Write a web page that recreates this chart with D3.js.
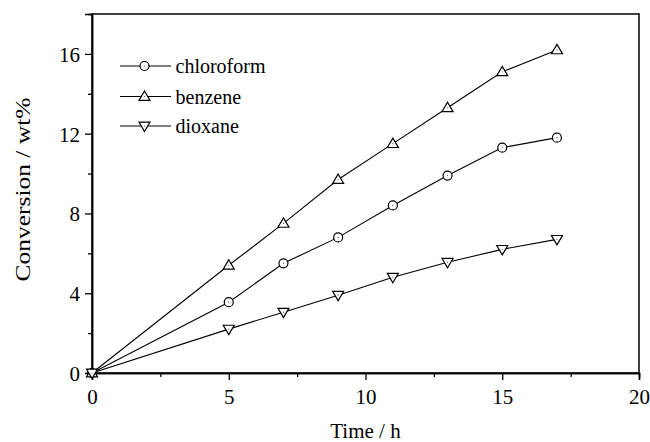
<!DOCTYPE html>
<html><head><meta charset="utf-8">
<script src="https://cdn.jsdelivr.net/npm/d3@7"></script>
<style>
html,body{margin:0;padding:0;background:#fff;}
svg{display:block;}
svg text{font-family:"Liberation Serif","Times New Roman","DejaVu Serif",serif !important;}
</style></head>
<body><svg id="c" width="650" height="442"></svg>
<script>
const time = [0, 5, 7, 9, 11, 13, 15, 17];
const chloroform = [0, 3.55, 5.5, 6.8, 8.4, 9.9, 11.3, 11.8];
const benzene = [0, 5.4, 7.5, 9.7, 11.5, 13.3, 15.1, 16.2];
const dioxane = [0, 2.2, 3.05, 3.9, 4.8, 5.55, 6.2, 6.7];
const seriesNames = ["chloroform", "benzene", "dioxane"];
const markerTypes = ["circle", "up", "down"];
const xTicks = [0, 5, 10, 15, 20];
const yTicks = [0, 4, 8, 12, 16];
const xTitle = "Time / h";
const yTitle = "Conversion / wt%";

const FONT = '"Liberation Serif","Times New Roman","DejaVu Serif",serif';
const svg = d3.select("#c");
const L = 92, R = 639, T = 14, B = 373;
const x = d3.scaleLinear().domain([0, 20]).range([L, R]);
const y = d3.scaleLinear().domain([0, 18]).range([B, T]);

// frame
svg.append("rect").attr("x", L).attr("y", T).attr("width", R - L).attr("height", B - T)
  .attr("fill", "none").attr("stroke", "#000").attr("stroke-width", 1.5);

// axes
const xAxis = d3.axisBottom(x).tickValues(xTicks).tickSize(7).tickPadding(6).tickFormat(d3.format("d"));
const gx = svg.append("g").attr("transform", `translate(0,${B})`).call(xAxis);
const xMinor = d3.axisBottom(x).tickValues([2.5, 7.5, 12.5, 17.5]).tickSize(4).tickFormat("");
const gx2 = svg.append("g").attr("transform", `translate(0,${B})`).call(xMinor);
const yAxis = d3.axisLeft(y).tickValues(yTicks).tickSize(7).tickPadding(5).tickFormat(d3.format("d"));
const gy = svg.append("g").attr("transform", `translate(${L},0)`).call(yAxis);
const yMinor = d3.axisLeft(y).tickValues([2, 6, 10, 14]).tickSize(4).tickFormat("");
const gy2 = svg.append("g").attr("transform", `translate(${L},0)`).call(yMinor);
[gx, gx2, gy, gy2].forEach(g => {
  g.attr("font-family", FONT).attr("font-size", 21);
  g.select(".domain").attr("stroke", "#000").attr("stroke-width", 1.5);
  g.selectAll(".tick line").attr("stroke", "#000").attr("stroke-width", 1.3);
  g.selectAll("text").attr("fill", "#000").attr("font-family", FONT).attr("font-size", 21);
});
gx.selectAll("text").attr("dy", null).attr("y", 31);
gy.selectAll("text").attr("dy", "0.35em");

// titles
svg.append("text").attr("x", (L + R) / 2).attr("y", 438).attr("text-anchor", "middle")
  .attr("font-family", FONT).attr("font-size", 21).text(xTitle);
svg.append("text").attr("transform", `translate(30,${(T + B) / 2 - 4}) rotate(-90)`)
  .attr("text-anchor", "middle").attr("font-family", FONT).attr("font-size", 22)
  .attr("textLength", 184).attr("lengthAdjust", "spacingAndGlyphs").text(yTitle);

const data = [chloroform, benzene, dioxane];
const line = d3.line().x((d, i) => x(time[i])).y(d => y(d));

function marker(g, type, cx, cy) {
  if (type === "circle") {
    g.append("circle").attr("cx", cx).attr("cy", cy).attr("r", 4.5)
      .attr("fill", "#fff").attr("stroke", "#000").attr("stroke-width", 1.2);
  } else {
    const s = 5.5;
    const p = type === "up"
      ? `M${cx},${cy - s}L${cx + s},${cy + s * 0.7}L${cx - s},${cy + s * 0.7}Z`
      : `M${cx},${cy + s}L${cx + s},${cy - s * 0.7}L${cx - s},${cy - s * 0.7}Z`;
    g.append("path").attr("d", p).attr("fill", "#fff").attr("stroke", "#000").attr("stroke-width", 1.2);
  }
  g.append("circle").attr("cx", cx).attr("cy", cy).attr("r", 0.6).attr("fill", "#555");
}

data.forEach((vals, k) => {
  svg.append("path").datum(vals).attr("d", line).attr("fill", "none")
    .attr("stroke", "#000").attr("stroke-width", 1.1);
});
data.forEach((vals, k) => {
  const g = svg.append("g");
  vals.forEach((v, i) => marker(g, markerTypes[k], x(time[i]), y(v)));
});

// legend
const legY = [66, 96.5, 126];
seriesNames.forEach((n, k) => {
  const g = svg.append("g");
  g.append("line").attr("x1", 120).attr("x2", 171).attr("y1", legY[k]).attr("y2", legY[k])
    .attr("stroke", "#000").attr("stroke-width", 1.1);
  marker(g, markerTypes[k], 144.5, legY[k]);
  g.append("text").attr("x", 175.5).attr("y", legY[k] + 7)
    .attr("font-family", FONT).attr("font-size", 20).text(n);
});
</script></body></html>
